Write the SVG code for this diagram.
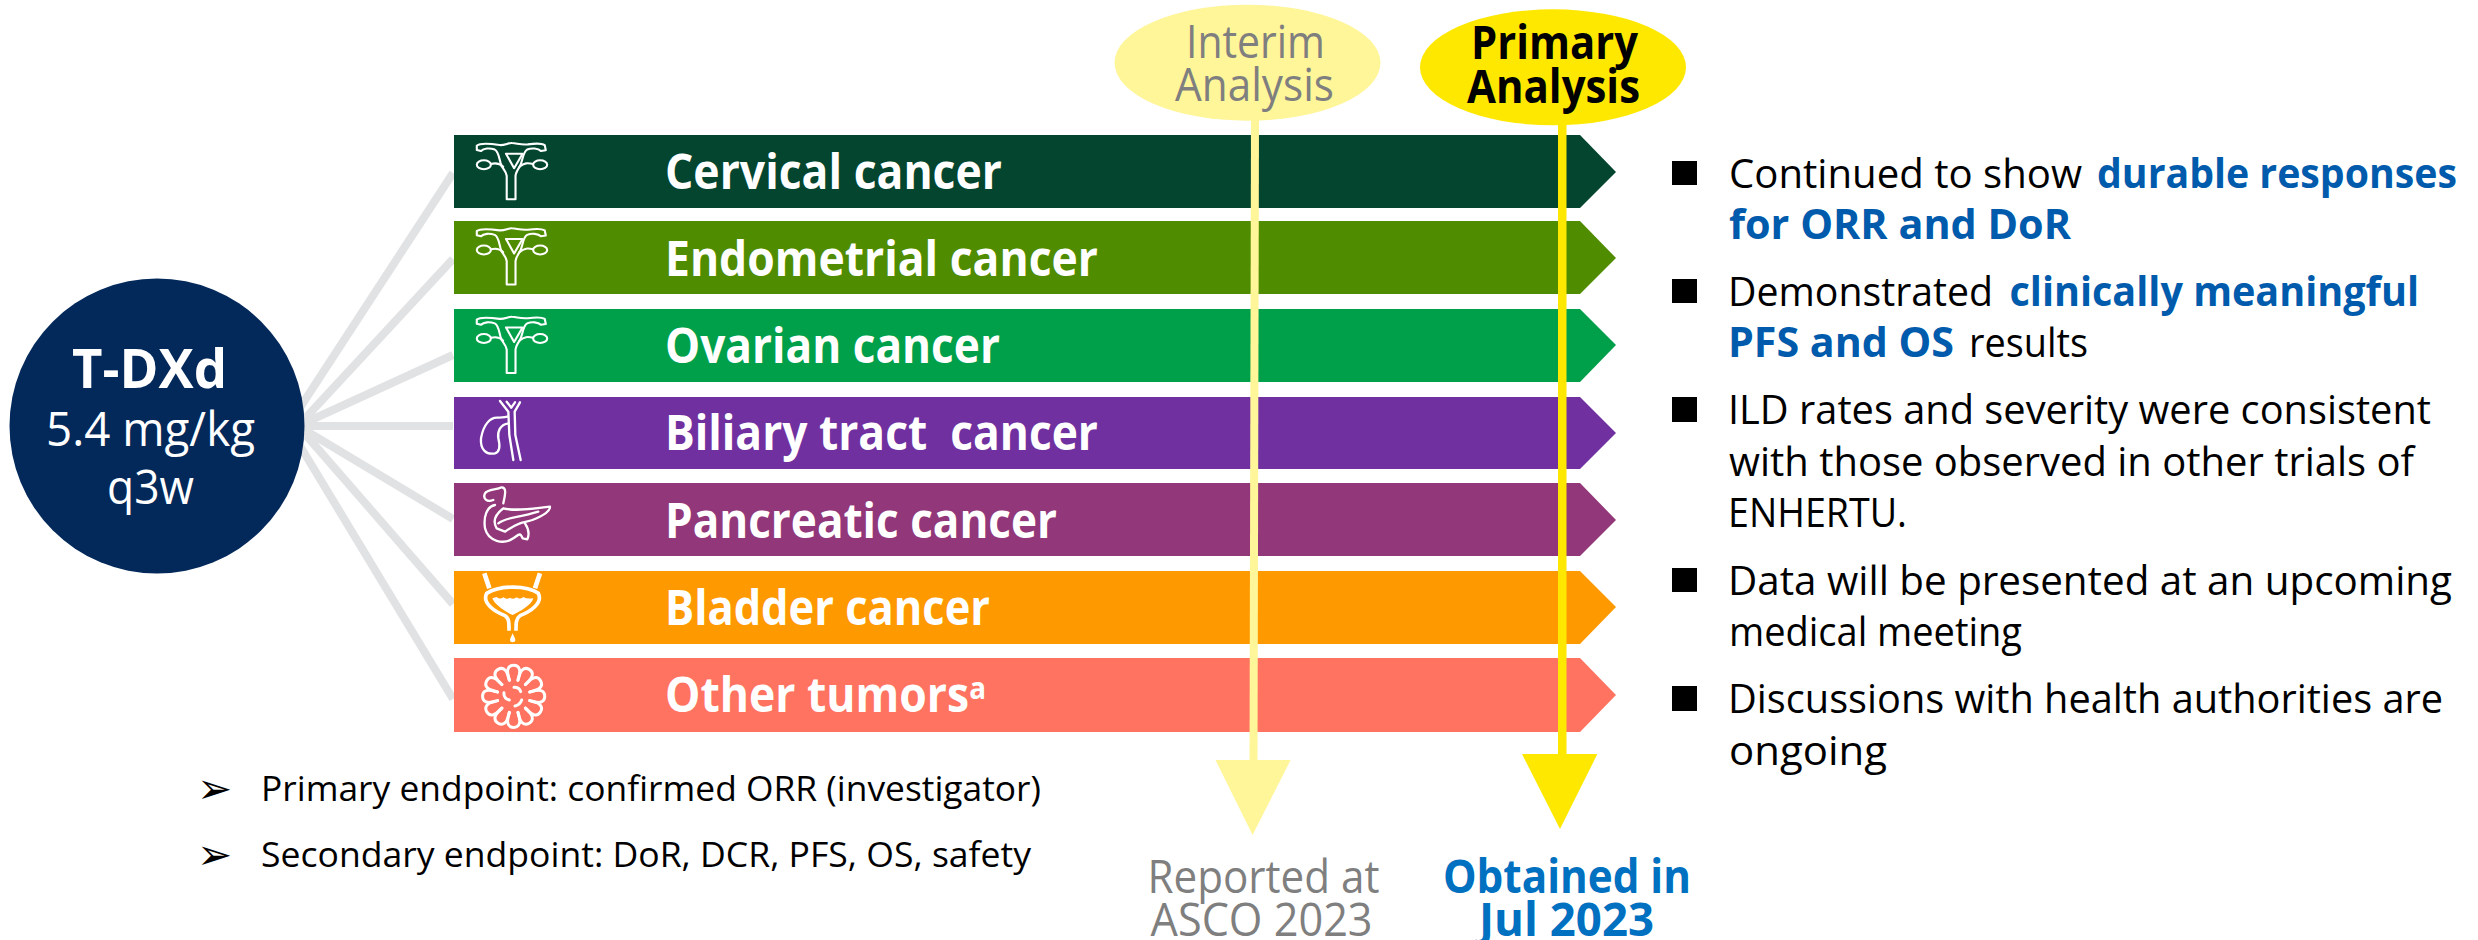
<svg xmlns="http://www.w3.org/2000/svg" width="2478" height="940" viewBox="0 0 2478 940">
<style>
text{font-family:"Open Sans","Noto Sans","Liberation Sans",sans-serif}
.bl{font-size:48px;font-weight:700;fill:#fff}
.an{font-size:46px}
.gr{fill:#7f7f7f}
.bo{font-weight:700}
.rt{font-size:41px;fill:#000}
.hi{font-weight:700;fill:#005bac}
.ep{font-size:34px;fill:#000}
.sq{fill:#000}
.cn{stroke:#e1e2e4;stroke-width:8;fill:none}
.ic{fill:none;stroke:#fff;stroke-width:6;stroke-linejoin:round;stroke-linecap:round}
.ar{font-size:42px;fill:#000}
</style>
<defs>
<g id="uterus" class="ic">
<path d="M25,47 L25,35 C35,26 70,30 90,33 C105,34 115,26 125,27 C140,28 150,33 170,31 C190,28 210,28 218,33 L221,48 L207,50 C200,42 180,41 168,46 C155,53 156,80 147,95 C140,106 136,112 135,122 L135,190 L110,190 L110,122 C109,112 103,106 96,95 C88,80 90,53 76,46 C62,41 44,42 37,50 Z"/>
<path d="M108,58 L155,58 L131,100 Z"/>
<ellipse cx="45" cy="90" rx="20" ry="13"/>
<ellipse cx="205" cy="90" rx="20" ry="13"/>
<path d="M65,88 C78,84 88,84 100,96"/>
<path d="M185,88 C170,84 160,84 146,96"/>
</g>
<path id="lobe" d="M-12.9,-48.3 C-16,-60 -21,-72 -17,-82 C-12,-97 12,-97 17,-82 C21,-72 16,-60 12.9,-48.3"/>
</defs>
<rect width="2478" height="940" fill="#fff"/>

<g id="fan-connectors">
<line class="cn" x1="288" y1="426" x2="453" y2="173"/>
<line class="cn" x1="298" y1="426" x2="453" y2="259"/>
<line class="cn" x1="298" y1="426" x2="453" y2="355"/>
<line class="cn" x1="298" y1="426" x2="453" y2="426"/>
<line class="cn" x1="298" y1="426" x2="453" y2="519"/>
<line class="cn" x1="298" y1="426" x2="453" y2="604"/>
<line class="cn" x1="288" y1="426" x2="453" y2="699"/>
</g>

<g id="node-tdxd">
<circle cx="157" cy="426" r="147.5" fill="#03285a"/>
<text fill="#fff"><tspan x="72" y="388" font-size="54" font-weight="700" textLength="155" lengthAdjust="spacingAndGlyphs">T-DXd</tspan><tspan x="46" y="446" font-size="47" textLength="209" lengthAdjust="spacingAndGlyphs">5.4 mg/kg</tspan><tspan x="107" y="504" font-size="47" textLength="87" lengthAdjust="spacingAndGlyphs">q3w</tspan></text>
</g>

<g id="bar-cervical">
<polygon points="454,135 1580,135 1616,172 1580,208 454,208" fill="#03452f"/>
<use href="#uterus" transform="translate(468,133.7) scale(.352,.345)"/>
<text class="bl" x="665" y="189" textLength="337" lengthAdjust="spacingAndGlyphs">Cervical cancer</text>
</g>
<g id="bar-endometrial">
<polygon points="454,221 1580,221 1616,258 1580,294 454,294" fill="#508c00"/>
<use href="#uterus" transform="translate(468,219) scale(.352,.345)"/>
<text class="bl" x="665" y="275.5" textLength="433" lengthAdjust="spacingAndGlyphs">Endometrial cancer</text>
</g>
<g id="bar-ovarian">
<polygon points="454,309 1580,309 1616,345 1580,382 454,382" fill="#00a04b"/>
<use href="#uterus" transform="translate(468,307.5) scale(.352,.345)"/>
<text class="bl" x="665" y="363" textLength="335" lengthAdjust="spacingAndGlyphs">Ovarian cancer</text>
</g>
<g id="bar-biliary">
<polygon points="454,397 1580,397 1616,433 1580,469 454,469" fill="#7030a0"/>
<g class="ic" transform="translate(470,395) scale(.3333)" style="stroke-width:7">
<path d="M90,18 L115,50 L118,120 L130,195"/>
<path d="M150,22 L134,50 L136,120 L152,195"/>
<path d="M110,20 L124,38 L135,22"/>
<path d="M112,65 C100,68 95,66 85,68 C60,65 40,90 33,130 C30,165 50,180 75,175 C92,170 90,150 85,130 C82,110 90,88 116,85"/>
</g>
<text class="bl" x="665" y="450" textLength="433" lengthAdjust="spacingAndGlyphs" xml:space="preserve">Biliary tract  cancer</text>
</g>
<g id="bar-pancreatic">
<polygon points="454,483 1580,483 1616,520 1580,556 454,556" fill="#92377a"/>
<g class="ic" transform="translate(440,470) scale(.3333)" style="stroke-width:7">
<path d="M160,90 C140,98 128,85 135,70 C142,58 170,60 185,52 C198,52 198,65 190,100"/>
<path d="M165,105 C140,110 130,140 135,175 C145,215 190,225 220,205 C235,195 240,185 248,205 L262,208 C270,190 265,175 255,160"/>
<path d="M190,115 C230,125 280,115 330,110 C330,125 310,135 290,145 C270,155 255,155 240,160 C225,165 210,175 195,185 L170,175 C155,150 170,130 190,115"/>
<path d="M175,160 C200,140 230,145 295,125"/>
</g>
<text class="bl" x="665" y="537.5" textLength="392" lengthAdjust="spacingAndGlyphs">Pancreatic cancer</text>
</g>
<g id="bar-bladder">
<polygon points="454,571 1580,571 1616,607 1580,644 454,644" fill="#ff9900"/>
<g transform="translate(440,470) scale(.3333)">
<path d="M133,310 L148,355 M300,310 L285,355" fill="none" stroke="#fff" stroke-width="14"/>
<path d="M207,482 C207,460 208,445 195,437 C165,425 125,400 140,370 C180,345 260,345 295,370 C310,400 270,425 240,437 C228,445 228,460 228,482" fill="none" stroke="#fff" stroke-width="11"/>
<path d="M157,385 L170,381 Q180,390 190,382 Q200,390 210,383 Q220,390 230,382 Q240,390 250,381 Q260,388 280,385 C275,405 240,425 218,435 C195,425 165,405 157,385 Z" fill="#fff"/>
<path d="M218,490 C214,500 210,506 210,510 C210,519 226,519 226,510 C226,506 222,500 218,490 Z" fill="#fff"/>
</g>
<text class="bl" x="665" y="625" textLength="325" lengthAdjust="spacingAndGlyphs">Bladder cancer</text>
</g>
<g id="bar-other">
<polygon points="454,658 1580,658 1616,695 1580,732 454,732" fill="#ff7360"/>
<g class="ic" transform="translate(440,470) scale(.3333)" style="stroke-width:9">
<g transform="translate(221,679)">
<use href="#lobe"/>
<use href="#lobe" transform="rotate(30)"/>
<use href="#lobe" transform="rotate(60)"/>
<use href="#lobe" transform="rotate(90)"/>
<use href="#lobe" transform="rotate(120)"/>
<use href="#lobe" transform="rotate(150)"/>
<use href="#lobe" transform="rotate(180)"/>
<use href="#lobe" transform="rotate(210)"/>
<use href="#lobe" transform="rotate(240)"/>
<use href="#lobe" transform="rotate(270)"/>
<use href="#lobe" transform="rotate(300)"/>
<use href="#lobe" transform="rotate(330)"/>
</g>
<path d="M222,652 Q238,652 242,665 M192,668 Q190,685 208,690 M225,708 Q240,705 245,690"/>
</g>
<text class="bl" x="665" y="712" textLength="321" lengthAdjust="spacingAndGlyphs">Other tumors<tspan dy="-13" font-size="30">a</tspan></text>
</g>

<g id="analysis-connectors">
<polygon points="1251,120 1259,120 1257.5,762 1249.5,762" fill="#fff599"/>
<polygon points="1215.5,760 1290.6,760 1252.6,835" fill="#fff599"/>
<rect x="1558" y="124" width="8.5" height="632" fill="#ffe800"/>
<polygon points="1522,754 1597.4,754 1560,829" fill="#ffe800"/>
</g>

<g id="node-interim">
<ellipse cx="1247.5" cy="62.7" rx="133" ry="58" fill="#fff599"/>
<text class="an gr"><tspan x="1186" y="58" textLength="139" lengthAdjust="spacingAndGlyphs">Interim</tspan><tspan x="1175" y="101" textLength="159" lengthAdjust="spacingAndGlyphs">Analysis</tspan></text>
</g>
<g id="node-primary">
<ellipse cx="1553" cy="67.3" rx="133" ry="58" fill="#ffe800"/>
<text class="an bo"><tspan x="1471" y="59" textLength="167" lengthAdjust="spacingAndGlyphs">Primary</tspan><tspan x="1467" y="103" textLength="173" lengthAdjust="spacingAndGlyphs">Analysis</tspan></text>
</g>
<g id="label-reported">
<text class="an gr"><tspan x="1147.5" y="893" textLength="232" lengthAdjust="spacingAndGlyphs">Reported at</tspan><tspan x="1150.6" y="936" textLength="222" lengthAdjust="spacingAndGlyphs">ASCO 2023</tspan></text>
</g>
<g id="label-obtained">
<text class="an bo" fill="#0070c0"><tspan x="1443" y="893" textLength="248" lengthAdjust="spacingAndGlyphs">Obtained in</tspan><tspan x="1479" y="936" textLength="175" lengthAdjust="spacingAndGlyphs">Jul 2023</tspan></text>
</g>

<g id="findings">
<rect class="sq" x="1672" y="161" width="25" height="24"/>
<rect class="sq" x="1672" y="279" width="25" height="24"/>
<rect class="sq" x="1672" y="397" width="25" height="25"/>
<rect class="sq" x="1672" y="568" width="25" height="24"/>
<rect class="sq" x="1672" y="686" width="25" height="25"/>
<text class="rt" y="188"><tspan x="1729" textLength="353" lengthAdjust="spacingAndGlyphs">Continued to show</tspan><tspan class="hi" x="2097" textLength="360" lengthAdjust="spacingAndGlyphs">durable responses</tspan></text>
<text class="rt hi" x="1729" y="239" textLength="342" lengthAdjust="spacingAndGlyphs">for ORR and DoR</text>
<text class="rt" y="306"><tspan x="1728" textLength="265" lengthAdjust="spacingAndGlyphs">Demonstrated</tspan><tspan class="hi" x="2009.5" textLength="409.5" lengthAdjust="spacingAndGlyphs">clinically meaningful</tspan></text>
<text class="rt" y="357"><tspan class="hi" x="1728" textLength="226" lengthAdjust="spacingAndGlyphs">PFS and OS</tspan><tspan x="1969" textLength="119" lengthAdjust="spacingAndGlyphs">results</tspan></text>
<text class="rt" x="1728" y="424" textLength="703" lengthAdjust="spacingAndGlyphs">ILD rates and severity were consistent</text>
<text class="rt" x="1729" y="476" textLength="685" lengthAdjust="spacingAndGlyphs">with those observed in other trials of</text>
<text class="rt" x="1728" y="527" textLength="179" lengthAdjust="spacingAndGlyphs">ENHERTU.</text>
<text class="rt" x="1728" y="595" textLength="724" lengthAdjust="spacingAndGlyphs">Data will be presented at an upcoming</text>
<text class="rt" x="1729" y="646" textLength="293" lengthAdjust="spacingAndGlyphs">medical meeting</text>
<text class="rt" x="1728" y="713" textLength="715" lengthAdjust="spacingAndGlyphs">Discussions with health authorities are</text>
<text class="rt" x="1729" y="765" textLength="158" lengthAdjust="spacingAndGlyphs">ongoing</text>
</g>

<g id="endpoints">
<text class="ar" x="197" y="803" style="font-family:'DejaVu Sans',sans-serif">➢</text>
<text class="ar" x="197" y="869" style="font-family:'DejaVu Sans',sans-serif">➢</text>
<text class="ep" x="261" y="801" textLength="780" lengthAdjust="spacingAndGlyphs">Primary endpoint: confirmed ORR (investigator)</text>
<text class="ep" x="261" y="867" textLength="770" lengthAdjust="spacingAndGlyphs">Secondary endpoint: DoR, DCR, PFS, OS, safety</text>
</g>
</svg>
